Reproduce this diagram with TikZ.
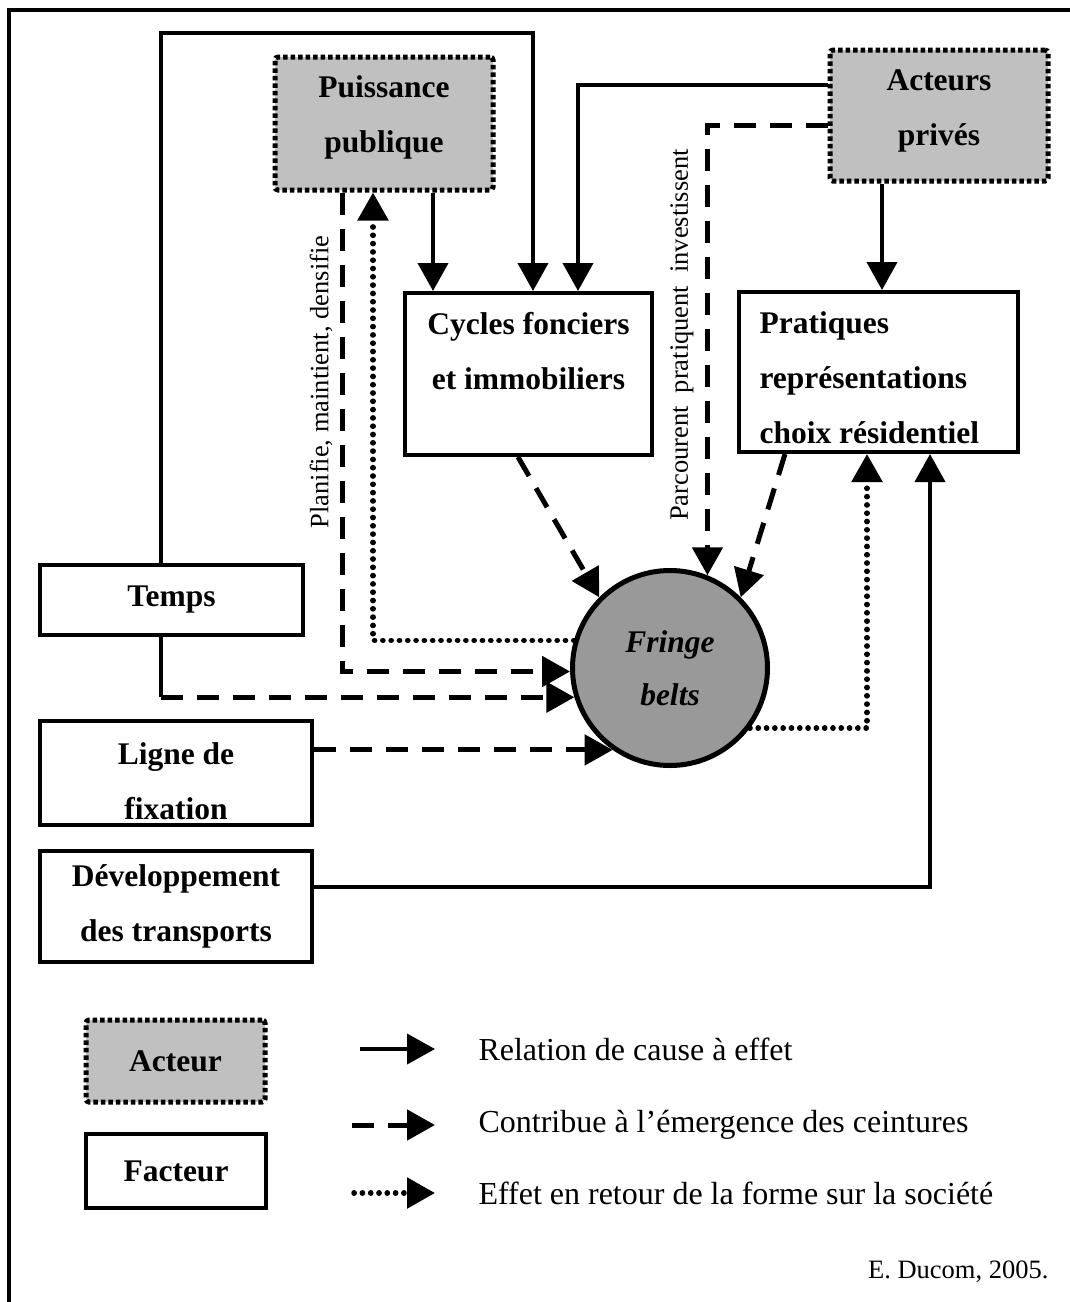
\documentclass[tikz,border=0pt]{standalone}
\usepackage{fontspec}
\setmainfont{Liberation Serif}
\usetikzlibrary{positioning, arrows.meta}
\definecolor{ActGray}{RGB}{192,192,192}
\definecolor{BeltGray}{RGB}{153,153,153}

\begin{document}
\begin{tikzpicture}[x=1pt, y=-1pt,
    actor/.style={rectangle, rounded corners=3pt, draw, fill=ActGray, line width=5pt,
                  dash pattern=on 4.5pt off 3pt, font=\bfseries\fontsize{31.5}{55}\selectfont,
                  align=center},
    factor/.style={rectangle, draw, line width=4pt, font=\bfseries\fontsize{31.5}{55}\selectfont,
                   align=center},
    lbl/.style={font=\bfseries\fontsize{31.5}{55}\selectfont},
    belt/.style={circle, draw, line width=5pt, fill=BeltGray, minimum size=195pt,
                 font=\bfseries\itshape\fontsize{31.5}{53}\selectfont, align=center},
    verb/.style={rotate=90, font=\fontsize{26.5}{30}\selectfont},
    legtxt/.style={anchor=west, font=\fontsize{32}{36}\selectfont},
    tip/.style={-{Triangle[length=28pt, width=30pt]}},
    cause/.style={tip, line width=4pt},
    emerge/.style={tip, line width=5pt, dash pattern=on 22pt off 14pt},
    retour/.style={tip, line width=5.5pt, line cap=round, dash pattern=on 0.2pt off 8.1pt}
  ]
  \useasboundingbox (0,0) rectangle (1070,1302);
  \draw[line width=3.5pt] (9,1302) -- (9,10) -- (1070,10);

  % actors
  \node[actor, minimum width=218pt, minimum height=133pt] (pp) at (384,123.5) {};
  \node[lbl, align=center, below=18pt of pp.north] (ppTxt) {Puissance\\publique};
  \node[actor, minimum width=218pt, minimum height=131pt] (ap) at (939,115.5) {};
  \node[lbl, align=center, below=18.5pt of ap.north] (apTxt) {Acteurs\\privés};

  % factors
  \node[factor, minimum width=247pt, minimum height=162pt] (cyc)  at (528.5,374) {};
  \node[lbl, align=center, below=17.5pt of cyc.north] (cycTxt)
        {Cycles fonciers\\et immobiliers};
  \node[factor, minimum width=279pt, minimum height=160pt] (prat) at (878.5,372) {};
  \node[lbl, align=left, below right=18.5pt and 19pt of prat.north west] (pratTxt)
        {Pratiques\\représentations\\choix résidentiel};
  \node[factor, minimum width=263pt, minimum height=70pt]  (temps) at (171.5,600) {Temps};
  \node[factor, minimum width=272pt, minimum height=104pt] (lig)   at (176,773) {};
  \node[lbl, align=center, below=20pt of lig.north] (ligTxt) {Ligne de\\fixation};
  \node[factor, minimum width=272pt, minimum height=111pt] (dev)   at (176,906.5)
        {Développement\\des transports};

  % the form
  \node[belt] (fb) at (670,668) {Fringe\\belts};

  % verbs along the dashed links
  \node[verb] (planTxt) at (321,382) {Planifie, maintient, densifie};
  \node[verb] (parcTxt) at (682,335)
        {Parcourent\hspace{13pt}pratiquent\hspace{13pt}investissent};

  % columns of the connectors
  \coordinate (cT)   at (160.5,0);
  \coordinate (loop) at (533,32.5);
  \coordinate (cPPd) at (342,0);
  \coordinate (cPPr) at (373,0);
  \coordinate (cPPc) at (433,0);
  \coordinate (cAPc) at (578,0);
  \coordinate (cAPp) at (882,0);
  \coordinate (cRet) at (867,0);
  \coordinate (cDev) at (930,0);

  % cause and effect
  \draw[cause] (temps.north -| cT) |- (loop) -- (loop |- cyc.north);
  \draw[cause] (pp.south -| cPPc) -- (cPPc |- cyc.north);
  \draw[cause] ([yshift=30.5pt]ap.west) -| (cAPc |- cyc.north);
  \draw[cause] (ap.south -| cAPp) -- (cAPp |- prat.north);
  \draw[cause] ([yshift=19.5pt]dev.east) -| (cDev |- prat.south);

  % emergence of the belts
  \draw[line width=4pt] (temps.south -| cT) -- (cT |- fb.197);
  \draw[emerge] (cT |- fb.197) -- (fb.197);
  \draw[emerge] (pp.south -| cPPd) |- (fb.182);
  \draw[emerge] ([yshift=-9.5pt]ap.west) -| (fb.68);
  \draw[emerge] ([xshift=-10.5pt]cyc.south) -- (fb.135);
  \draw[emerge] ([xshift=-93.5pt]prat.south) -- (fb.45);
  \draw[emerge] (lig.east |- fb.235) -- (fb.235);

  % feedback of the form
  \draw[retour] (fb.164) -| (cPPr |- pp.south);
  \draw[retour] (fb.323) -| (cRet |- prat.south);

  % legend
  \node[actor, minimum width=179pt, minimum height=82pt] (legAct) at (175.5,1061) {Acteur};
  \node[factor, minimum width=180pt, minimum height=74pt] (legFac) at (176,1171) {Facteur};
  \node[legtxt] (legCause)  at (475,1049) {Relation de cause à effet};
  \node[legtxt] (legEmerge) at (475,1125) {Contribue à l’émergence des ceintures};
  \node[legtxt] (legRetour) at (475,1193) {Effet en retour de la forme sur la société};
  \draw[cause]  ([xshift=-115pt]legCause.west)  -- ([xshift=-40pt]legCause.west);
  \draw[emerge] ([xshift=-123pt]legEmerge.west) -- ([xshift=-40pt]legEmerge.west);
  \draw[retour] ([xshift=-121pt]legRetour.west) -- ([xshift=-40pt]legRetour.west);

  \node[anchor=east, font=\fontsize{26.5}{30}\selectfont] (credit) at (1052,1272)
        {E. Ducom, 2005.};
\end{tikzpicture}
\end{document}
